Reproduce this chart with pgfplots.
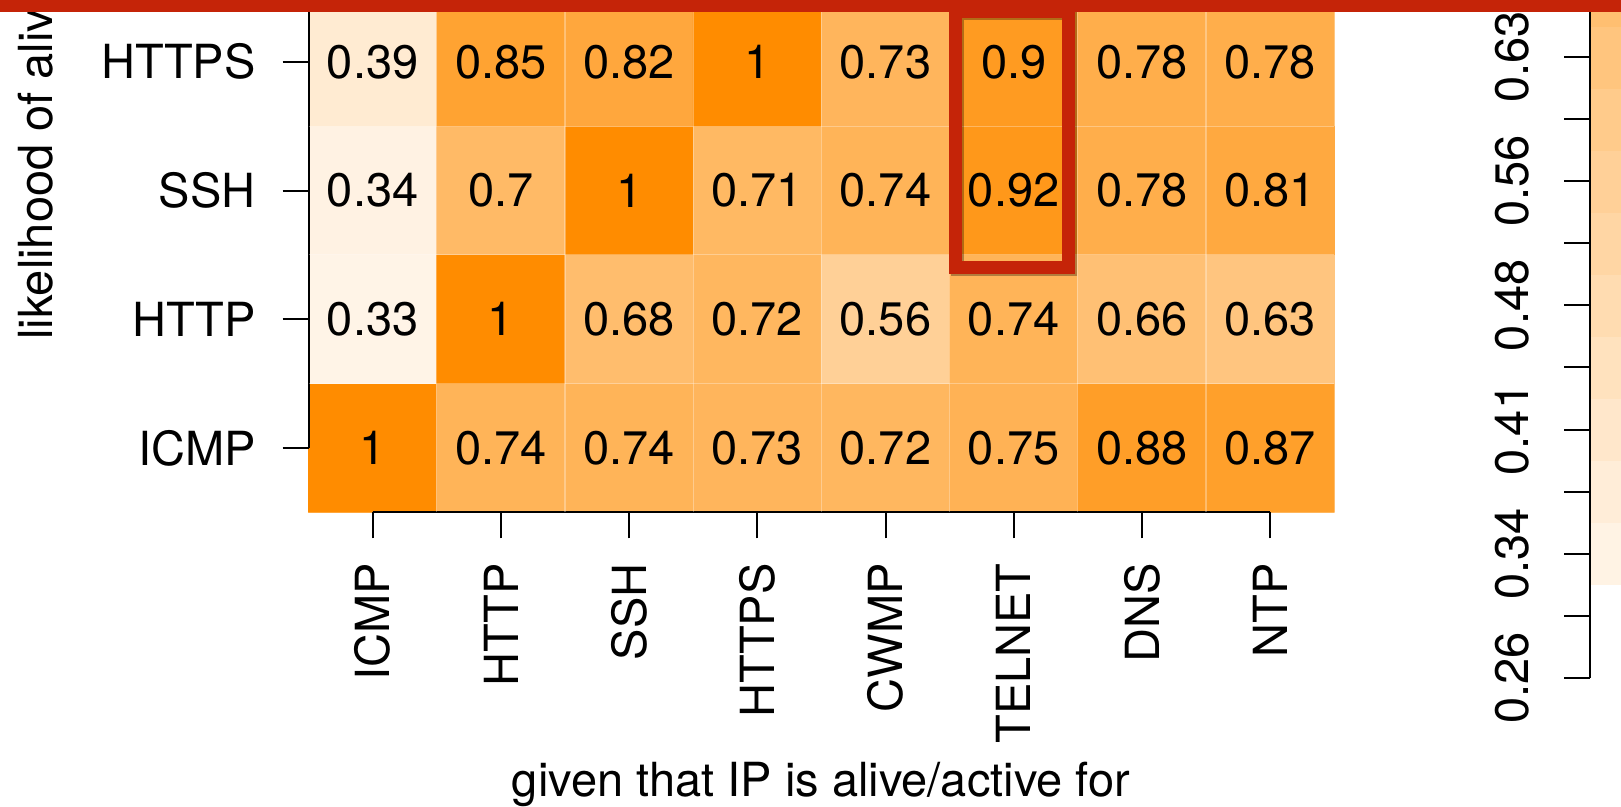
\documentclass[border=0pt]{standalone}
\usepackage{fontspec}
\setmainfont{TeX Gyre Heros}
\usepackage{pgfplots}
\usepackage{pgfplotstable}
\pgfplotsset{compat=1.18}
\definecolor{redbar}{RGB}{197,36,8}
\pgfplotsset{colormap={whor}{rgb255(0cm)=(255,255,255); rgb255(1cm)=(255,140,0)}}

\pgfplotstableread{
x y v
0 0 1
1 0 0.74
2 0 0.74
3 0 0.73
4 0 0.72
5 0 0.75
6 0 0.88
7 0 0.87
0 1 0.33
1 1 1
2 1 0.68
3 1 0.72
4 1 0.56
5 1 0.74
6 1 0.66
7 1 0.63
0 2 0.34
1 2 0.7
2 2 1
3 2 0.71
4 2 0.74
5 2 0.92
6 2 0.78
7 2 0.81
0 3 0.39
1 3 0.85
2 3 0.82
3 3 1
4 3 0.73
5 3 0.9
6 3 0.78
7 3 0.78
}\heat

\begin{document}
\fontsize{23.5}{28}\selectfont
\begin{tikzpicture}
\useasboundingbox (0,0) rectangle (810.5pt,403.5pt);
\clip (0,0) rectangle (810.5pt,403.5pt);

\begin{axis}[
  at={(154.3pt,147.35pt)}, anchor=south west,
  x=64.1pt, y=64.35pt,
  xmin=-0.5, xmax=7.5, ymin=-0.5, ymax=3.5,
  clip=false,
  axis x line*=bottom, axis y line*=left,
  axis line style={draw=none},
  xtick={0,...,7},
  xticklabels={ICMP,HTTP,SSH,HTTPS,CWMP,TELNET,DNS,NTP},
  ytick={0,...,3},
  yticklabels={ICMP,HTTP,SSH,HTTPS},
  tick align=outside, major tick length=13pt,
  tick style={black, line width=1pt},
  xticklabel style={rotate=90, anchor=east, inner sep=0pt},
  yticklabel style={anchor=east, inner sep=0pt},
  xticklabel shift=12.35pt, yticklabel shift=13.3pt,
  colormap name=whor, point meta min=0.26, point meta max=1,
  /pgf/number format/assume math mode=true,
  axis on top,
  minor xtick={0.5,1.5,...,6.5}, minor ytick={0.5,1.5,2.5},
  minor tick length=0pt,
  xminorgrids=true, yminorgrids=true,
  minor grid style={white, opacity=0.3, line width=0.6pt},
]
\addplot[matrix plot*, mesh/cols=8, point meta=explicit,
  nodes near coords,
  nodes near coords style={anchor=center, inner sep=0pt, black}]
  table[x=x, y=y, meta=v] {\heat};
\draw[line width=1pt] (axis cs:0,-0.5) -- (axis cs:7,-0.5);
\draw[line width=1pt] (axis cs:-0.5,0) -- (axis cs:-0.5,3.7);
\end{axis}

\begin{axis}[
  at={(795pt,64.5pt)}, anchor=south west,
  x=30pt, y=31.05pt,
  xmin=0, xmax=1, ymin=0, ymax=11.5,
  clip=false,
  hide x axis,
  axis y line*=left,
  axis line style={draw=none},
  ytick={0,...,11},
  yticklabels={0.26,,0.34,,0.41,,0.48,,0.56,,0.63,},
  tick align=outside, major tick length=13pt,
  tick style={black, line width=1pt},
  yticklabel style={rotate=90, anchor=south, inner sep=0pt},
  yticklabel shift=17pt,
  colormap name=whor, point meta min=0.26, point meta max=1,
]
\addplot[patch, patch type=rectangle, shader=flat, point meta=explicit]
coordinates {
(0,1.5) [0.3367] (1,1.5) [0.3367] (1,2.5) [0.3367] (0,2.5) [0.3367]
(0,2.5) [0.3736] (1,2.5) [0.3736] (1,3.5) [0.3736] (0,3.5) [0.3736]
(0,3.5) [0.4104] (1,3.5) [0.4104] (1,4.5) [0.4104] (0,4.5) [0.4104]
(0,4.5) [0.4473] (1,4.5) [0.4473] (1,5.5) [0.4473] (0,5.5) [0.4473]
(0,5.5) [0.4841] (1,5.5) [0.4841] (1,6.5) [0.4841] (0,6.5) [0.4841]
(0,6.5) [0.5210] (1,6.5) [0.5210] (1,7.5) [0.5210] (0,7.5) [0.5210]
(0,7.5) [0.5578] (1,7.5) [0.5578] (1,8.5) [0.5578] (0,8.5) [0.5578]
(0,8.5) [0.5947] (1,8.5) [0.5947] (1,9.5) [0.5947] (0,9.5) [0.5947]
(0,9.5) [0.6315] (1,9.5) [0.6315] (1,10.5) [0.6315] (0,10.5) [0.6315]
(0,10.5) [0.6684] (1,10.5) [0.6684] (1,11.5) [0.6684] (0,11.5) [0.6684]
};
\draw[line width=1pt] (axis cs:0,0) -- (axis cs:0,11.5);
\end{axis}

\node[rotate=90, anchor=base west, inner sep=0pt] at (26pt,233.5pt) {likelihood of alive/active for};
\node[anchor=base, inner sep=0pt] at (410.5pt,5pt) {given that IP is alive/active for};

\draw[black, opacity=0.3, line width=6.5pt] (478.7pt,268.55pt) rectangle (535.45pt,396.55pt);
\draw[redbar, line width=6.5pt] (477.5pt,269.75pt) rectangle (534.25pt,397.75pt);
\fill[redbar] (0,397.5pt) rectangle (810.5pt,410pt);
\end{tikzpicture}
\end{document}
